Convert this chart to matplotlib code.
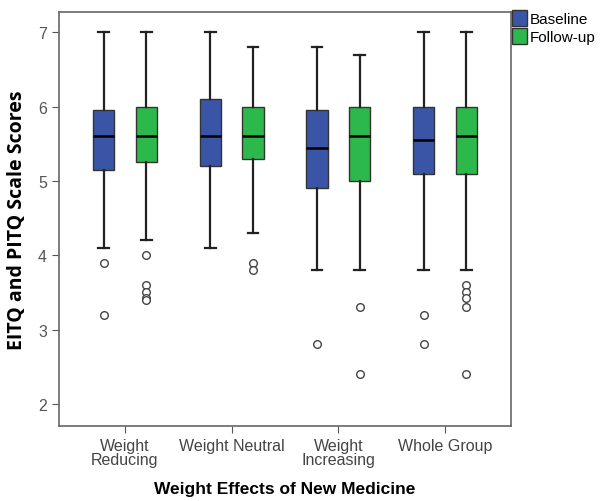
import matplotlib.pyplot as plt
from matplotlib.patches import Patch

plt.rcParams['font.family'] = ['Liberation Sans', 'DejaVu Sans']

groups = ["Weight\nReducing", "Weight Neutral", "Weight\nIncreasing", "Whole Group"]

# baseline: (whislo, q1, med, q3, whishi)
base_low = [4.1, 4.1, 3.8, 3.8]
base_q1 = [5.15, 5.2, 4.9, 5.1]
base_med = [5.6, 5.6, 5.45, 5.55]
base_q3 = [5.95, 6.1, 5.95, 6.0]
base_high = [7.0, 7.0, 6.8, 7.0]
base_out = [[3.9, 3.2], [], [2.8], [3.2, 2.8]]

fu_low = [4.2, 4.3, 3.8, 3.8]
fu_q1 = [5.25, 5.3, 5.0, 5.1]
fu_med = [5.6, 5.6, 5.6, 5.6]
fu_q3 = [6.0, 6.0, 6.0, 6.0]
fu_high = [7.0, 6.8, 6.7, 7.0]
fu_out = [[4.0, 3.6, 3.5, 3.42, 3.4], [3.9, 3.8], [3.3, 2.4], [3.6, 3.5, 3.42, 3.3, 2.4]]

blue = "#3B55A6"
green = "#2DB84C"


def make_stats(lo, q1, med, q3, hi, out):
    return [dict(whislo=a, q1=b, med=c, q3=d, whishi=e, fliers=f)
            for a, b, c, d, e, f in zip(lo, q1, med, q3, hi, out)]


fig = plt.figure(figsize=(6, 5.02), dpi=100)
ax = fig.add_axes([0.098, 0.149, 0.754, 0.826])

pos = list(range(len(groups)))
for stats, off, col in [(make_stats(base_low, base_q1, base_med, base_q3, base_high, base_out), -0.2, blue),
                        (make_stats(fu_low, fu_q1, fu_med, fu_q3, fu_high, fu_out), 0.2, green)]:
    ax.bxp(stats, positions=[p + off for p in pos], widths=0.2, patch_artist=True,
           boxprops=dict(facecolor=col, edgecolor="#333333", linewidth=1.0),
           medianprops=dict(color="black", linewidth=1.8),
           whiskerprops=dict(color="#222222", linewidth=1.6),
           capprops=dict(color="#222222", linewidth=1.6),
           capwidths=0.1,
           flierprops=dict(marker="o", markersize=5.5, markerfacecolor="white",
                           markeredgecolor="#444444", markeredgewidth=1.0))

ax.set_xlim(-0.62, 3.62)
ax.set_ylim(1.7, 7.28)
ax.set_xticks(pos)
ax.set_xticklabels(groups, fontsize=11.5, color="#444444", linespacing=0.95)
ax.set_yticks([2, 3, 4, 5, 6, 7])
ax.tick_params(axis="y", labelsize=11.5, labelcolor="#555555", color="#555555", length=5)
ax.tick_params(axis="x", color="#555555", length=5)
for sp in ax.spines.values():
    sp.set_color("#666666")
    sp.set_linewidth(1.2)

ax.set_ylabel("EITQ and PITQ Scale Scores", fontsize=14, fontweight="bold", labelpad=8,
              family=["Open Sans", "DejaVu Sans"])
ax.set_xlabel("Weight Effects of New Medicine", fontsize=12.5, fontweight="bold", labelpad=10)

handles = [Patch(facecolor=blue, edgecolor="#333333", label="Baseline"),
           Patch(facecolor=green, edgecolor="#333333", label="Follow-up")]
fig.legend(handles=handles, loc="upper left", bbox_to_anchor=(0.853, 0.978), frameon=False,
           fontsize=11, handlelength=1.0, handleheight=1.25, handletextpad=0.15,
           borderaxespad=0, labelspacing=0.1, borderpad=0)

fig.savefig("out.png", dpi=100)
